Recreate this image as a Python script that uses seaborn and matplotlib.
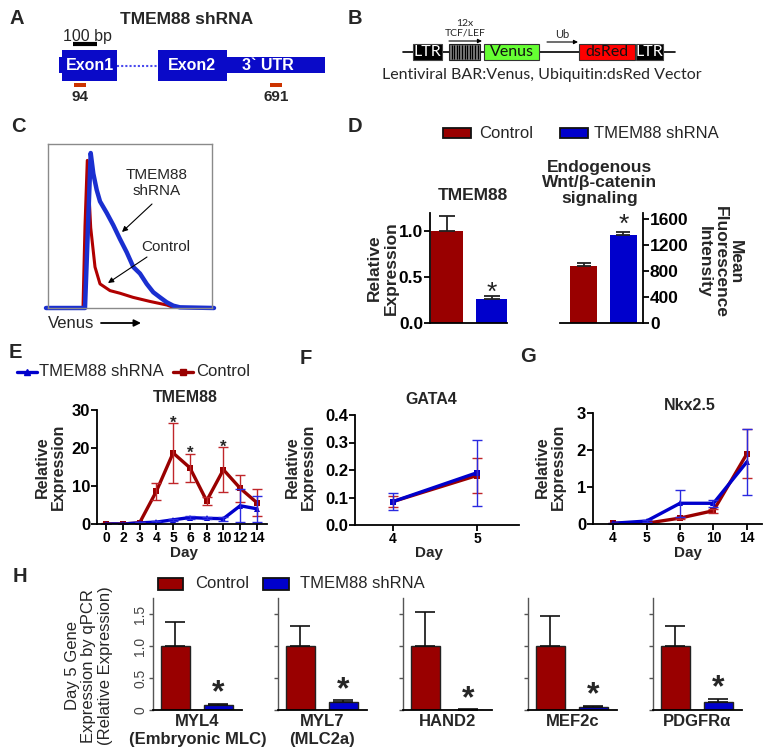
import numpy as np
import pandas as pd
import matplotlib
matplotlib.use('Agg')
import matplotlib.pyplot as plt
import seaborn as sns
from matplotlib.patches import Rectangle

sns.set_theme(style='ticks')
plt.rcParams['font.family'] = ['Liberation Sans', 'DejaVu Sans']
plt.rcParams['axes.linewidth'] = 1.3
plt.rcParams['axes.edgecolor'] = 'black'
plt.rcParams['xtick.color'] = 'black'
plt.rcParams['ytick.color'] = 'black'

W, H = 767, 755
RED = '#990000'
BLUE = '#0000cc'
groups = ['Control', 'TMEM88 shRNA']

# ---------------- data ----------------
# C: flow cytometry histograms (Venus channel vs normalised count)
venus_ch_ctrl = [-2, 35, 37, 39.3, 42.7, 47, 52, 62, 72, 85, 102, 119, 125, 166]
count_ctrl = [0, 0, 0.5, 0.9, 0.49, 0.25, 0.147, 0.106, 0.09, 0.065, 0.04, 0.018, 0.004, 0]
venus_ch_sh = [-2, 37, 40, 42.7, 45.3, 48.7, 52, 58.7, 65.3, 72, 78.7, 85.3, 92, 98.7,
               105.3, 112, 118.7, 125.3, 132, 166]
count_sh = [0, 0, 0.5, 0.945, 0.82, 0.72, 0.65, 0.58, 0.505, 0.42, 0.34, 0.25, 0.21, 0.147,
            0.096, 0.065, 0.035, 0.014, 0.004, 0]

# D
d_tmem_mean = [1.0, 0.265]
d_tmem_err = [0.165, 0.035]
d_mfi_mean = [880, 1355]
d_mfi_err = [40, 45]

# E
e_days = ['0', '2', '3', '4', '5', '6', '8', '10', '12', '14']
e_ctrl = [0, 0, 0.3, 8.6, 18.7, 14.8, 6.1, 14.3, 9.4, 5.6]
e_ctrl_err = [0.2, 0.2, 0.3, 2.2, 7.8, 3.7, 1.1, 5.9, 3.6, 3.6]
e_sh = [0, 0, 0.3, 0.5, 1.1, 1.7, 1.5, 1.4, 4.8, 4.0]
e_sh_err = [0.1, 0.1, 0.1, 0.2, 0.3, 0.3, 0.3, 0.5, 4.4, 3.4]
e_star_days = ['5', '6', '10']

# F
f_days = [4, 5]
f_ctrl = [0.085, 0.18]
f_ctrl_err = [0.02, 0.065]
f_sh = [0.085, 0.19]
f_sh_err = [0.03, 0.12]

# G
g_days = ['4', '5', '6', '10', '14']
g_ctrl = [0.02, 0.02, 0.16, 0.36, 1.9]
g_ctrl_err = [0.02, 0.02, 0.02, 0.05, 0.67]
g_sh = [0.02, 0.08, 0.56, 0.56, 1.68]
g_sh_err = [0.02, 0.02, 0.37, 0.1, 0.9]

# H
h_genes = ['MYL4\n(Embryonic MLC)', 'MYL7\n(MLC2a)', 'HAND2', 'MEF2c', 'PDGFRα']
h_ctrl = [1.0, 1.0, 1.0, 1.0, 1.0]
h_ctrl_err = [0.37, 0.32, 0.53, 0.47, 0.31]
h_sh = [0.078, 0.125, 0.005, 0.04, 0.13]
h_sh_err = [0.022, 0.025, 0.003, 0.02, 0.04]

# ---------------- figure ----------------
fig = plt.figure(figsize=(W / 100, H / 100), dpi=100)
fig.patch.set_facecolor('white')

ov = fig.add_axes([0, 0, 1, 1], zorder=10)
ov.set_xlim(0, W)
ov.set_ylim(H, 0)
ov.axis('off')
ov.patch.set_alpha(0)


def add_ax(x0, y0, x1, y1):
    return fig.add_axes([x0 / W, 1 - y1 / H, (x1 - x0) / W, (y1 - y0) / H])


def bold_ticks(ax, xs=None, ys=None):
    if xs:
        for t in ax.get_xticklabels():
            t.set_fontweight('bold'); t.set_fontsize(xs)
    if ys:
        for t in ax.get_yticklabels():
            t.set_fontweight('bold'); t.set_fontsize(ys)


# panel letters
for lab, (x, y) in {'A': (17, 18), 'B': (355, 18), 'C': (18, 127), 'D': (355, 127),
                    'E': (15, 353), 'F': (306, 358), 'G': (528, 357), 'H': (20, 577)}.items():
    ov.text(x, y, lab, fontsize=14.5, fontweight='bold', ha='center', va='center')

# ---------- A: gene diagram ----------
GB = '#0a0ac8'
ov.text(187, 20, 'TMEM88 shRNA', fontsize=12.5, fontweight='bold', ha='center', va='center')
ov.text(87, 36, '100 bp', fontsize=11.5, ha='center', va='center')
ov.plot([73, 97], [44, 44], color='black', lw=3, solid_capstyle='butt')
ov.add_patch(Rectangle((59, 57), 4, 16, fc=GB, ec='none'))
ov.add_patch(Rectangle((62, 50), 55, 31, fc=GB, ec='none'))
ov.plot([117, 158], [66, 66], color='#4a4aee', lw=1.5, ls=(0, (1, 1)))
ov.add_patch(Rectangle((158, 50), 69, 31, fc=GB, ec='none'))
ov.add_patch(Rectangle((226, 57), 99, 16, fc=GB, ec='none'))
for t, x in [('Exon1', 90), ('Exon2', 192), ('3` UTR', 268)]:
    ov.text(x, 66, t, color='white', fontsize=11.5, fontweight='bold', ha='center', va='center')
ov.add_patch(Rectangle((74, 83), 12, 4, fc='#cc3300', ec='none'))
ov.add_patch(Rectangle((270, 83), 12, 4, fc='#cc3300', ec='none'))
ov.text(80, 97, '94', fontsize=11, fontweight='bold', ha='center', va='center')
ov.text(276, 97, '691', fontsize=11, fontweight='bold', ha='center', va='center')

# ---------- B: vector diagram ----------
BF = ['Liberation Sans Narrow', 'Lato', 'DejaVu Sans']
ov.plot([403, 675], [52, 52], color='black', lw=1.2, zorder=1)
ov.add_patch(Rectangle((413, 44), 29, 16, fc='black', ec='#444', lw=0.8, zorder=2))
ov.add_patch(Rectangle((449, 44), 31, 16, fc='#777777', ec='#222', lw=0.8, zorder=2))
ov.vlines(np.arange(451.5, 479, 2.6), 45, 59, color='black', lw=0.8, zorder=3)
ov.add_patch(Rectangle((484, 44), 55, 16, fc='#66ff33', ec='#333', lw=0.8, zorder=2))
ov.add_patch(Rectangle((579, 44), 56, 16, fc='#ff0000', ec='#333', lw=0.8, zorder=2))
ov.add_patch(Rectangle((636, 44), 27, 16, fc='black', ec='#444', lw=0.8, zorder=2))
ov.text(427.5, 52.5, 'LTR', color='white', fontsize=11.5, ha='center', va='center', family=BF)
ov.text(649.5, 52.5, 'LTR', color='white', fontsize=11.5, ha='center', va='center', family=BF)
ov.text(511.5, 52.5, 'Venus', color='#111', fontsize=11.5, ha='center', va='center', family=BF)
ov.text(607, 52.5, 'dsRed', color='#111', fontsize=11.5, ha='center', va='center', family=BF)
ov.text(465, 23, '12x', fontsize=7.5, ha='center', va='center', family=BF)
ov.text(465, 33, 'TCF/LEF', fontsize=7.5, ha='center', va='center', family=BF)
ov.annotate('', xy=(482, 41), xytext=(449, 41),
            arrowprops=dict(arrowstyle='-|>', lw=0.8, color='black', mutation_scale=6, shrinkA=0, shrinkB=0))
ov.text(562, 35, 'Ub', fontsize=8, ha='center', va='center', family=BF)
ov.annotate('', xy=(578, 42), xytext=(547, 42),
            arrowprops=dict(arrowstyle='-|>', lw=0.8, color='black', mutation_scale=6, shrinkA=0, shrinkB=0))
ov.text(542, 75, 'Lentiviral BAR:Venus, Ubiquitin:dsRed Vector', fontsize=11.5,
        ha='center', va='center', family=BF)

# ---------- C: histogram ----------
axc = add_ax(48, 144, 212, 308)
sns.lineplot(x=venus_ch_ctrl, y=count_ctrl, color='#b00000', linewidth=2.2, ax=axc,
             estimator=None, sort=False)
sns.lineplot(x=venus_ch_sh, y=count_sh, color='#1a2fd0', linewidth=3.2, ax=axc,
             estimator=None, sort=False)
for ln in axc.lines:
    ln.set_clip_on(False)
axc.set_xlim(0, 164)
axc.set_ylim(0, 1)
axc.set_xticks([]); axc.set_yticks([])
axc.set_xlabel(''); axc.set_ylabel('')
for s in axc.spines.values():
    s.set_color('#8a8a8a'); s.set_linewidth(1)
ov.text(157, 175, 'TMEM88', fontsize=11, ha='center', va='center')
ov.text(157, 191, 'shRNA', fontsize=11, ha='center', va='center')
ov.annotate('', xy=(122, 232), xytext=(152, 204),
            arrowprops=dict(arrowstyle='-|>', lw=0.8, color='black', mutation_scale=8, shrinkA=0, shrinkB=0))
ov.text(166, 247, 'Control', fontsize=11, ha='center', va='center')
ov.annotate('', xy=(108, 283), xytext=(147, 257),
            arrowprops=dict(arrowstyle='-|>', lw=0.8, color='black', mutation_scale=8, shrinkA=0, shrinkB=0))
ov.text(48, 323, 'Venus', fontsize=12, ha='left', va='center')
ov.annotate('', xy=(141, 323), xytext=(101, 323),
            arrowprops=dict(arrowstyle='-|>', lw=1.3, color='black', mutation_scale=10, shrinkA=0, shrinkB=0))

# ---------- D ----------
ov.add_patch(Rectangle((443, 128), 28, 10, fc=RED, ec='#111', lw=1.3))
ov.text(479, 133, 'Control', fontsize=12, ha='left', va='center')
ov.add_patch(Rectangle((560, 128), 28, 10, fc=BLUE, ec='#111', lw=1.3))
ov.text(594, 133, 'TMEM88 shRNA', fontsize=12, ha='left', va='center')

axd1 = add_ax(430, 213, 507, 323)
dfd1 = pd.DataFrame({'group': groups, 'val': d_tmem_mean})
sns.barplot(data=dfd1, x='group', y='val', hue='group', palette=[RED, BLUE], saturation=1,
            width=0.72, errorbar=None, legend=False, ax=axd1, linewidth=0)
axd1.errorbar(range(len(groups)), d_tmem_mean, yerr=[[0, 0], d_tmem_err], fmt='none',
              ecolor='#222', elinewidth=1.3, capsize=6, capthick=1.3)
axd1.set_xlim(-0.39, 1.34)
axd1.set_ylim(0, 1.2)
axd1.set_yticks([0, 0.5, 1.0])
axd1.set_yticklabels(['0.0', '0.5', '1.0'])
axd1.set_xticks([])
axd1.set_xlabel(''); axd1.set_ylabel('')
sns.despine(ax=axd1)
axd1.tick_params(axis='y', length=4, width=1.3, pad=1)
bold_ticks(axd1, ys=12.5)
axd1.text(1, d_tmem_mean[1] + d_tmem_err[1] + 0.03, '*', ha='center', va='center',
          fontsize=19, color='#222')
ov.text(473, 195, 'TMEM88', fontsize=12.5, fontweight='bold', ha='center', va='center')
ov.text(383, 268, 'Relative\nExpression', fontsize=12.5, fontweight='bold', rotation=90,
        ha='center', va='center', linespacing=1.15)

axd2 = add_ax(560, 213, 643, 323)
dfd2 = pd.DataFrame({'group': groups, 'val': d_mfi_mean})
sns.barplot(data=dfd2, x='group', y='val', hue='group', palette=[RED, BLUE], saturation=1,
            width=0.68, errorbar=None, legend=False, ax=axd2, linewidth=0)
axd2.errorbar(range(len(groups)), d_mfi_mean, yerr=[[0, 0], d_mfi_err], fmt='none',
              ecolor='#222', elinewidth=1.3, capsize=5, capthick=1.3)
axd2.set_xlim(-0.59, 1.49)
axd2.set_ylim(0, 1700)
axd2.set_yticks([0, 400, 800, 1200, 1600])
axd2.set_xticks([])
axd2.set_xlabel(''); axd2.set_ylabel('')
axd2.yaxis.tick_right()
axd2.spines['left'].set_visible(False)
axd2.spines['top'].set_visible(False)
axd2.tick_params(axis='y', length=4, width=1.3, pad=1)
bold_ticks(axd2, ys=12.5)
axd2.text(1, d_mfi_mean[1] + d_mfi_err[1] + 110, '*', ha='center', va='center',
          fontsize=19, color='#222')
ov.text(600, 183, 'Endogenous\nWnt/β-catenin\nsignaling', fontsize=12.5, fontweight='bold',
        ha='center', va='center', linespacing=1.05)
ov.text(720, 262, 'Mean\nFluorescence\nIntensity', fontsize=12.5, fontweight='bold', rotation=270,
        ha='center', va='center', linespacing=1.05)


# ---------- line plots helper ----------
def line_panel(ax, xvals, ctrl, ctrl_err, sh, sh_err, marker_sh='^'):
    n = len(xvals)
    df = pd.DataFrame({'x': list(xvals) * 2, 'val': list(ctrl) + list(sh),
                       'group': ['Control'] * n + ['TMEM88 shRNA'] * n})
    sns.lineplot(data=df, x='x', y='val', hue='group', style='group',
                 palette={'Control': RED, 'TMEM88 shRNA': BLUE},
                 markers={'Control': 's', 'TMEM88 shRNA': marker_sh}, dashes=False,
                 linewidth=2.4, markersize=5, markeredgewidth=0, legend=False, ax=ax)
    ax.errorbar(xvals, ctrl, yerr=ctrl_err, fmt='none', ecolor='#c0262a', elinewidth=1,
                capsize=3.5, capthick=1)
    ax.errorbar(xvals, sh, yerr=sh_err, fmt='none', ecolor='#2a2ae0', elinewidth=1,
                capsize=3.5, capthick=1)
    ax.set_xlabel(''); ax.set_ylabel('')
    sns.despine(ax=ax)
    ax.tick_params(length=4, width=1.3, pad=1)


# ---------- E ----------
ov.plot([17, 37], [372, 372], color=BLUE, lw=2.4)
ov.plot([27], [372], marker='^', color=BLUE, ms=5)
ov.text(39, 372, 'TMEM88 shRNA', fontsize=12, ha='left', va='center')
ov.plot([173, 193], [372, 372], color=RED, lw=2.4)
ov.plot([183], [372], marker='s', color=RED, ms=4.5)
ov.text(196, 372, 'Control', fontsize=12, ha='left', va='center')

axe = add_ax(97, 410, 267, 524)
e_pos = np.arange(len(e_days))
line_panel(axe, e_pos, e_ctrl, e_ctrl_err, e_sh, e_sh_err)
axe.set_xlim(-0.54, 9.6)
axe.set_ylim(0, 30)
axe.set_yticks([0, 10, 20, 30])
axe.set_xticks(e_pos)
axe.set_xticklabels(e_days)
bold_ticks(axe, xs=10, ys=12)
for d in e_star_days:
    i = e_days.index(d)
    axe.text(i, e_ctrl[i] + e_ctrl_err[i], '*', ha='center', va='center',
             fontsize=12, fontweight='bold')
ov.text(185, 398, 'TMEM88', fontsize=11.5, fontweight='bold', ha='center', va='center')
ov.text(184, 553, 'Day', fontsize=11, fontweight='bold', ha='center', va='center')
ov.text(50, 467, 'Relative\nExpression', fontsize=11.5, fontweight='bold', rotation=90,
        ha='center', va='center', linespacing=1.1)

# ---------- F ----------
axf = add_ax(355, 415, 519, 525)
line_panel(axf, f_days, f_ctrl, f_ctrl_err, f_sh, f_sh_err, marker_sh='s')
axf.set_xlim(3.55, 5.5)
axf.set_ylim(0, 0.4)
axf.set_yticks([0, 0.1, 0.2, 0.3, 0.4])
axf.set_yticklabels(['0.0', '0.1', '0.2', '0.3', '0.4'])
axf.set_xticks(f_days)
bold_ticks(axf, xs=10, ys=12)
ov.text(431, 399, 'GATA4', fontsize=11.5, fontweight='bold', ha='center', va='center')
ov.text(429, 553, 'Day', fontsize=11, fontweight='bold', ha='center', va='center')
ov.text(300, 467, 'Relative\nExpression', fontsize=11.5, fontweight='bold', rotation=90,
        ha='center', va='center', linespacing=1.1)

# ---------- G ----------
axg = add_ax(593, 413, 762, 524)
g_pos = np.arange(len(g_days))
line_panel(axg, g_pos, g_ctrl, g_ctrl_err, g_sh, g_sh_err)
axg.set_xlim(-0.6, 4.45)
axg.set_ylim(0, 3)
axg.set_yticks([0, 1, 2, 3])
axg.set_xticks(g_pos)
axg.set_xticklabels(g_days)
bold_ticks(axg, xs=10, ys=12)
ov.text(690, 405, 'Nkx2.5', fontsize=11.5, fontweight='bold', ha='center', va='center')
ov.text(688, 553, 'Day', fontsize=11, fontweight='bold', ha='center', va='center')
ov.text(550, 467, 'Relative\nExpression', fontsize=11.5, fontweight='bold', rotation=90,
        ha='center', va='center', linespacing=1.1)

# ---------- H ----------
ov.add_patch(Rectangle((158, 578), 25, 12, fc=RED, ec='#111', lw=1.3))
ov.text(195, 584, 'Control', fontsize=12, ha='left', va='center')
ov.add_patch(Rectangle((263, 578), 26, 12, fc=BLUE, ec='#111', lw=1.3))
ov.text(300, 584, 'TMEM88 shRNA', fontsize=12, ha='left', va='center')
ov.text(89, 666, 'Day 5 Gene\nExpression by qPCR\n(Relative Expression)', fontsize=12,
        rotation=90, ha='center', va='center', linespacing=1.15)

h_x0 = [153, 278, 403, 528, 653]
for i, gene in enumerate(h_genes):
    ax = add_ax(h_x0[i], 598, h_x0[i] + 89, 710)
    dfh = pd.DataFrame({'group': groups, 'val': [h_ctrl[i], h_sh[i]]})
    sns.barplot(data=dfh, x='group', y='val', hue='group', palette=[RED, BLUE], saturation=1,
                width=0.67, errorbar=None, legend=False, ax=ax, edgecolor='#222', linewidth=1)
    ax.errorbar(range(len(groups)), [h_ctrl[i], h_sh[i]],
                yerr=[[0, 0], [h_ctrl_err[i], h_sh_err[i]]], fmt='none',
                ecolor='#111', elinewidth=1.2, capsize=7, capthick=1.2)
    ax.set_xlim(-0.52, 1.55)
    ax.set_ylim(0, 1.75)
    ax.set_yticks([0, 0.5, 1.0, 1.5])
    ax.set_xticks([])
    ax.set_ylabel('')
    ax.set_xlabel(gene, fontsize=12, fontweight='bold', labelpad=3, linespacing=1.25)
    sns.despine(ax=ax)
    ax.spines['left'].set_color('#555')
    ax.spines['left'].set_linewidth(1)
    ax.tick_params(axis='y', length=3, width=1, color='#555', pad=1)
    if i == 0:
        ax.set_yticklabels(['0', '0.5', '1.0', '1.5'], rotation=90, va='center',
                           fontsize=10, color='#444')
    else:
        ax.set_yticklabels([])
    ax.annotate('*', xy=(1, h_sh[i] + h_sh_err[i]), xytext=(0, 7.5), textcoords='offset points',
                ha='center', va='center', fontsize=23, fontweight='bold')

fig.savefig('out.png', dpi=100)
